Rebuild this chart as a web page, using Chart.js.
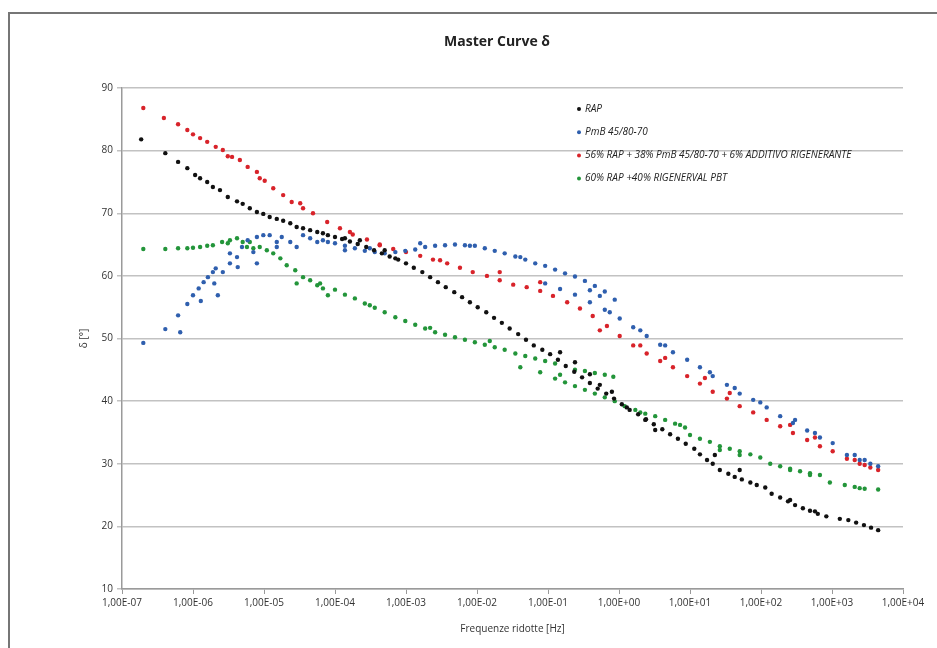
<!DOCTYPE html>
<html>
<head>
<meta charset="utf-8">
<title>Master Curve δ</title>
<script src="https://cdn.jsdelivr.net/npm/chart.js@4.4.1/dist/chart.umd.min.js"></script>
<style>
    html, body { margin: 0; padding: 0; background: #fff; overflow: hidden; }
    #wrap { position: relative; width: 937px; height: 648px; }
    #wrap canvas { position: absolute; left: 0; top: 0; }
    #frame {
        position: absolute; left: 8px; top: 12px; width: 1200px; height: 900px;
        border-left: 2px solid #767676; border-top: 2px solid #767676;
        pointer-events: none;
    }
</style>
</head>
<body>
<div id="wrap">
    <canvas id="masterCurve" width="937" height="648"></canvas>
    <div id="frame"></div>
</div>
<script>
// Axis ticks
const xTickExps = [-7, -6, -5, -4, -3, -2, -1, 0, 1, 2, 3, 4];
const xTickLabels = ['1,00E-07', '1,00E-06', '1,00E-05', '1,00E-04', '1,00E-03', '1,00E-02',
    '1,00E-01', '1,00E+00', '1,00E+01', '1,00E+02', '1,00E+03', '1,00E+04'];

const seriesNames = ['RAP', 'PmB 45/80-70',
    '56% RAP + 38% PmB 45/80-70 + 6% ADDITIVO RIGENERANTE', '60% RAP +40% RIGENERVAL PBT'];

// RAP - log10 of reduced frequency [Hz] and delta [deg]
const rapLogF = [-6.73, -6.39, -6.21, -6.08, -5.97, -5.90, -5.80, -5.72, -5.62, -5.51,
    -5.38, -5.30, -5.20, -5.10, -5.01, -4.92, -4.82, -4.73, -4.63, -4.54,
    -4.45, -4.35, -4.25, -4.17, -4.10, -4.00, -3.90, -3.79, -3.68, -3.56,
    -3.45, -3.34, -3.23, -3.11, -3.00, -2.89, -2.77, -2.66, -2.55, -2.44,
    -2.32, -2.21, -2.10, -1.99, -1.87, -1.76, -1.65, -1.54, -1.42, -1.31,
    -1.20, -1.08, -0.97, -0.86, -0.75, -0.63, -0.52, -0.41, -0.30, -0.18,
    -0.07, 0.04, 0.15, 0.27, 0.38, 0.49, 0.61, 0.72, 0.83, 0.94,
    1.06, 1.14, 1.24, 1.32, 1.42, 1.54, 1.63, 1.73, 1.85, 1.94,
    2.06, 2.15, 2.27, 2.38, 2.48, 2.59, 2.69, 2.80, 2.92, 3.11,
    3.23, 3.34, 3.45, 3.55, 3.65,
    -0.83, -0.62, -0.41, -0.27, -0.10, 0.11, 0.37, 0.51, 1.35, 1.70,
    2.41, 2.76, -3.86, -3.65, -3.30, -3.15];
const rapDelta = [81.8, 79.6, 78.2, 77.2, 76.1, 75.6, 75.0, 74.2, 73.7, 72.6,
    71.9, 71.5, 70.8, 70.2, 69.9, 69.4, 69.1, 68.8, 68.4, 67.8,
    67.6, 67.3, 67.0, 66.8, 66.5, 66.2, 65.9, 65.5, 65.1, 64.6,
    64.1, 63.6, 63.1, 62.6, 62.0, 61.3, 60.6, 59.8, 59.0, 58.2,
    57.4, 56.6, 55.8, 55.0, 54.2, 53.3, 52.5, 51.6, 50.7, 49.8,
    48.9, 48.2, 47.5, 46.6, 45.6, 44.7, 43.8, 42.9, 42.0, 41.2,
    40.4, 39.5, 38.6, 37.9, 37.1, 36.3, 35.5, 34.7, 34.0, 33.2,
    32.4, 31.5, 30.6, 30.0, 29.0, 28.4, 27.9, 27.5, 27.0, 26.6,
    26.2, 25.2, 24.6, 24.0, 23.4, 22.9, 22.5, 22.0, 21.6, 21.2,
    21.0, 20.6, 20.2, 19.8, 19.4,
    47.8, 46.2, 44.3, 42.6, 41.5, 39.0, 37.0, 35.4, 31.4, 29.0,
    24.2, 22.4, 66.0, 65.7, 64.1, 62.8];

// PmB 45/80-70
const pmbLogF = [-6.70, -6.39, -6.21, -6.18, -6.08, -6.00, -5.92, -5.89, -5.85, -5.79,
    -5.72, -5.70, -5.68, -5.65, -5.58, -5.48, -5.48, -5.38, -5.37, -5.31,
    -5.23, -5.15, -5.10, -5.10, -5.01, -4.92, -4.82, -4.82, -4.75, -4.63,
    -4.54, -4.45, -4.35, -4.25, -4.17, -4.10, -4.00, -3.86, -3.72, -3.58,
    -3.44, -3.30, -3.15, -3.01, -2.87, -2.73, -2.59, -2.45, -2.31, -2.17,
    -2.03, -1.89, -1.75, -1.61, -1.46, -1.32, -1.18, -1.04, -0.90, -0.76,
    -0.62, -0.48, -0.34, -0.20, -0.06, -1.04, -0.83, -0.62, -0.41, -0.20,
    0.01, 0.20, 0.39, 0.58, 0.76, 0.96, 1.14, 1.32, 1.52, 1.70,
    1.89, 2.08, 2.27, 2.45, 2.65, 2.83, 3.01, 3.21, 3.39, 3.54,
    3.65,
    -0.41, -0.27, -0.13, 0.30, 0.65, 1.28, 1.63, 1.99, 2.48, 2.76,
    3.32, 3.46, -1.39, -2.10, -2.80, -3.51, -3.86];
const pmbDelta = [49.3, 51.5, 53.7, 51.0, 55.5, 56.9, 58.0, 56.0, 59.0, 59.8,
    60.6, 58.8, 61.2, 56.9, 60.6, 62.0, 63.6, 63.0, 61.4, 64.6,
    65.7, 63.8, 62.0, 66.2, 66.5, 66.5, 65.4, 64.6, 66.2, 65.4,
    64.6, 66.5, 66.0, 65.4, 65.7, 65.4, 65.2, 64.8, 64.4, 64.0,
    63.8, 63.6, 63.8, 64.0, 64.2, 64.6, 64.8, 64.9, 65.0, 64.9,
    64.8, 64.4, 64.0, 63.6, 63.1, 62.6, 62.0, 61.6, 61.0, 60.4,
    59.9, 59.2, 58.4, 57.5, 56.2, 58.8, 57.9, 57.0, 55.8, 54.6,
    53.2, 51.8, 50.4, 49.0, 47.8, 46.6, 45.4, 44.0, 42.6, 41.2,
    40.2, 39.0, 37.6, 36.5, 35.3, 34.2, 33.3, 31.4, 30.6, 30.0,
    29.6,
    57.7, 56.8, 54.2, 51.3, 48.9, 44.6, 42.1, 39.8, 37.0, 34.9,
    31.4, 30.6, 63.0, 64.8, 65.2, 64.4, 64.1];

// 56% RAP + 38% PmB + 6% additivo
const mixALogF = [-6.70, -6.41, -6.21, -6.08, -6.00, -5.90, -5.80, -5.68, -5.58, -5.45,
    -5.34, -5.23, -5.10, -4.99, -4.87, -4.73, -4.61, -4.45, -4.31, -4.11,
    -3.93, -3.75, -3.55, -3.37, -3.18, -3.00, -2.80, -2.62, -2.42, -2.24,
    -2.06, -1.86, -1.68, -1.49, -1.30, -1.11, -0.93, -0.73, -0.55, -0.37,
    -0.17, 0.01, 0.20, 0.39, 0.58, 0.76, 0.96, 1.14, 1.32, 1.52,
    1.70, 1.89, 2.08, 2.27, 2.45, 2.65, 2.83, 3.01, 3.21, 3.39,
    3.54, 3.65,
    -0.27, 0.30, 0.65, 1.21, 1.56, 2.41, 2.76, 3.32, 3.46, -1.11,
    -1.68, -2.52, -3.37, -3.79, -4.49, -5.06, -5.51];
const mixADelta = [86.8, 85.2, 84.2, 83.3, 82.6, 82.0, 81.4, 80.6, 80.1, 79.0,
    78.5, 77.4, 76.6, 75.2, 74.0, 72.9, 71.8, 70.8, 70.0, 68.6,
    67.6, 66.6, 65.8, 65.0, 64.3, 63.8, 63.2, 62.6, 62.0, 61.3,
    60.6, 60.0, 59.3, 58.6, 58.2, 57.6, 56.8, 55.8, 54.8, 53.6,
    52.0, 50.4, 48.9, 47.6, 46.4, 45.4, 44.0, 42.8, 41.5, 40.4,
    39.2, 38.2, 37.0, 36.0, 34.9, 33.8, 32.8, 32.0, 30.8, 30.0,
    29.4, 29.0,
    51.3, 48.9, 46.9, 43.7, 41.3, 36.2, 34.2, 30.6, 29.8, 59.0,
    60.6, 62.5, 64.9, 67.0, 71.6, 75.6, 79.1];

// 60% RAP + 40% Rigenerval PBT
const mixBLogF = [-6.70, -6.39, -6.21, -6.08, -6.00, -5.90, -5.80, -5.72, -5.59, -5.51,
    -5.38, -5.30, -5.24, -5.15, -5.06, -4.96, -4.87, -4.77, -4.68, -4.56,
    -4.54, -4.45, -4.35, -4.25, -4.17, -4.10, -4.00, -3.86, -3.72, -3.58,
    -3.44, -3.30, -3.15, -3.01, -2.87, -2.73, -2.59, -2.45, -2.31, -2.17,
    -2.03, -1.89, -1.75, -1.61, -1.46, -1.39, -1.32, -1.18, -1.04, -0.90,
    -0.62, -0.48, -0.34, -0.20, -0.08, -1.11, -0.90, -0.76, -0.62, -0.48,
    -0.34, -0.20, -0.06, 0.08, 0.23, 0.37, 0.51, 0.65, 0.79, 0.93,
    1.00, 1.14, 1.28, 1.42, 1.56, 1.70, 1.85, 1.99, 2.13, 2.27,
    2.41, 2.55, 2.69, 2.83, 2.97, 3.18, 3.32, 3.46, 3.65,
    -0.83, 0.30, 0.86, 1.42, 1.70, 2.41, 2.69, 3.39, -1.82, -2.66,
    -3.51, -4.21, -5.20, -5.48];
const mixBDelta = [64.3, 64.3, 64.4, 64.4, 64.5, 64.6, 64.8, 64.9, 65.4, 65.2,
    66.0, 65.4, 64.6, 64.4, 64.6, 64.1, 63.6, 62.8, 61.7, 60.9,
    58.8, 59.8, 59.3, 58.5, 58.0, 56.9, 57.8, 57.0, 56.4, 55.6,
    54.9, 54.2, 53.4, 52.8, 52.2, 51.6, 51.0, 50.6, 50.2, 49.8,
    49.4, 49.0, 48.6, 48.2, 47.6, 45.4, 47.2, 46.8, 46.4, 46.0,
    45.0, 44.8, 44.5, 44.2, 43.9, 44.6, 43.6, 43.0, 42.4, 41.8,
    41.2, 40.6, 40.0, 39.2, 38.6, 38.0, 37.6, 37.0, 36.4, 35.8,
    34.6, 34.0, 33.5, 32.8, 32.4, 32.0, 31.5, 31.0, 30.0, 29.6,
    29.2, 28.8, 28.5, 28.2, 27.0, 26.6, 26.3, 26.0, 25.9,
    44.2, 38.2, 36.2, 32.2, 31.4, 29.0, 28.2, 26.1, 49.6, 51.7,
    55.3, 58.8, 65.4, 65.7];

const seriesColors = ['#111111', '#2f5fae', '#d8232a', '#23953a'];

function toPoints(logF, delta) {
    return logF.map((e, i) => ({ x: Math.pow(10, e), y: delta[i] }));
}

const tickFont = { family: '"Open Sans", sans-serif', size: 10 };
const textColor = '#333333';

// Title and legend drawn inside the frame, like the spreadsheet original
const overlayPlugin = {
    id: 'overlay',
    afterDraw(chart) {
        const ctx = chart.ctx;
        ctx.save();
        ctx.fillStyle = '#222';
        ctx.textAlign = 'center';
        ctx.textBaseline = 'middle';
        ctx.font = 'bold 14px "Open Sans", sans-serif';
        ctx.fillText('Master Curve δ', 497, 42);

        ctx.textAlign = 'left';
        ctx.font = 'italic 10px "Open Sans", sans-serif';
        chart.data.datasets.forEach((ds, i) => {
            const y = 109 + i * 23.2;
            ctx.fillStyle = ds.backgroundColor;
            ctx.beginPath();
            ctx.arc(579, y, 2, 0, Math.PI * 2);
            ctx.fill();
            ctx.fillStyle = '#222';
            ctx.fillText(ds.label, 585, y);
        });
        ctx.restore();
    }
};

const datasetsData = [
    toPoints(rapLogF, rapDelta),
    toPoints(pmbLogF, pmbDelta),
    toPoints(mixALogF, mixADelta),
    toPoints(mixBLogF, mixBDelta)
];

new Chart(document.getElementById('masterCurve'), {
    type: 'scatter',
    data: {
        datasets: datasetsData.map((pts, i) => ({
            label: seriesNames[i],
            data: pts,
            backgroundColor: seriesColors[i],
            borderColor: seriesColors[i],
            pointRadius: 2.2,
            pointBorderWidth: 0,
            showLine: false
        }))
    },
    options: {
        responsive: false,
        animation: false,
        devicePixelRatio: 1,
        layout: { padding: { left: 78, right: 34, top: 88, bottom: 10 } },
        plugins: {
            legend: { display: false },
            title: { display: false },
            tooltip: { enabled: false }
        },
        scales: {
            x: {
                type: 'logarithmic',
                min: 1e-7,
                max: 1e4,
                afterBuildTicks: scale => {
                    scale.ticks = xTickExps.map(e => ({ value: Math.pow(10, e) }));
                },
                afterFit: scale => { scale.height = 49; },
                ticks: {
                    autoSkip: false,
                    maxRotation: 0,
                    padding: 3,
                    font: tickFont,
                    color: textColor,
                    callback: (value, index) => xTickLabels[index]
                },
                grid: { drawOnChartArea: false, tickLength: 5, color: '#9a9a9a' },
                border: { color: '#9a9a9a', width: 1.5 },
                title: {
                    display: true,
                    text: 'Frequenze ridotte [Hz]',
                    font: tickFont,
                    color: textColor,
                    padding: { top: 4, bottom: 3 }
                }
            },
            y: {
                min: 10,
                max: 90,
                afterFit: scale => { scale.width = 44; },
                ticks: { stepSize: 10, padding: 4, font: tickFont, color: textColor },
                grid: { color: '#c2c2c2', lineWidth: 1.5, tickLength: 5 },
                border: { color: '#9a9a9a', width: 1.5 },
                title: {
                    display: true,
                    text: 'δ [°]',
                    font: tickFont,
                    color: textColor,
                    padding: { top: 0, bottom: 4 }
                }
            }
        }
    },
    plugins: [overlayPlugin]
});
</script>
</body>
</html>
